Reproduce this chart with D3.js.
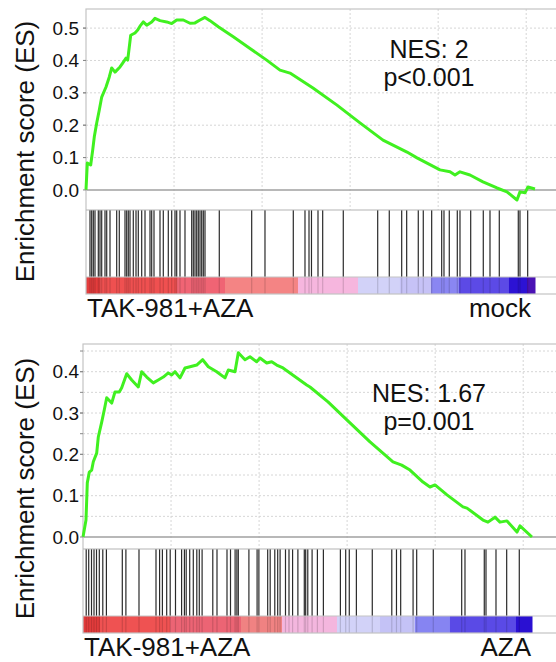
<!DOCTYPE html>
<meta charset="utf-8">
<style>

body {
  margin: 0;
  background: #fff;
}

svg text {
  font-family: "Liberation Sans", Arial, sans-serif;
  fill: #111;
}

.frame {
  fill: none;
  stroke: #c4c4c4;
  stroke-width: 1.2px;
}

.grid {
  stroke: #d6d6d6;
  stroke-width: 1px;
  stroke-dasharray: 2, 2;
}

.es-line {
  fill: none;
  stroke: #40f020;
  stroke-width: 3px;
  stroke-linejoin: round;
}

.hit {
  stroke: #2a2a2a;
  stroke-width: 1.2px;
}

</style>
<body>
<script src="https://cdn.jsdelivr.net/npm/d3@7"></script>
<script>

// ranked list length and x grid positions (gene rank)
var N = 25500;
var xGrid = [5000, 10000, 15000, 20000, 25000];

// panel 1 : TAK-981+AZA vs mock
var esRank1 = [0, 74, 267, 380, 471, 608, 755, 892, 1136, 1323, 1459, 1647, 1931, 2084, 2272, 2368,
  2539, 2783, 2936, 3067, 3254, 3447, 3731, 3918, 4203, 4583, 4867, 5151, 5526, 5906, 6190, 6474,
  6758, 7042, 7513, 8365, 9314, 10262, 11017, 11585, 12891, 14254, 15560, 16867, 18230, 18798,
  20104, 20672, 20956, 21240, 21808, 22546, 23341, 23909, 24477, 24647, 24931, 25101, 25499];
var esScore1 = [0, 0.083, 0.077, 0.123, 0.164, 0.207, 0.247, 0.287, 0.318, 0.349, 0.377, 0.364, 0.380, 0.392, 0.407, 0.401,
  0.478, 0.485, 0.494, 0.506, 0.519, 0.509, 0.519, 0.530, 0.523, 0.519, 0.514, 0.525, 0.525, 0.515, 0.516, 0.525,
  0.533, 0.523, 0.504, 0.473, 0.437, 0.401, 0.370, 0.361, 0.315, 0.262, 0.207, 0.154, 0.117, 0.099,
  0.062, 0.056, 0.046, 0.056, 0.046, 0.025, 0.006, -0.006, -0.031, -0.006, -0.009, 0.009, 0.003];
var hits1 = [227, 324, 415, 511, 699, 795, 892, 1079, 1176, 1363, 1743, 1891, 2215, 2311, 2402, 2499,
  2686, 2840, 2970, 3163, 3351, 3635, 3731, 3862, 4203, 4390, 4674, 4867, 5054, 5151, 5338, 5622,
  6003, 6094, 6190, 6287, 6378, 6474, 6571, 6662, 6758, 7570, 9410, 10165, 11773, 12437, 12665,
  12806, 13176, 13442, 14612, 16566, 17224, 17929, 18212, 18871, 19155, 19632, 20200, 20331, 20632,
  21087, 21240, 21848, 22563, 22944, 23472, 24551, 24647, 25084];
var barStart1 = [0, 800, 5170, 7894, 12039, 15447, 17832, 19593, 21183, 24022, 25044];
var barColor1 = ["#e43c3c", "#ef5050", "#f06474", "#f48484", "#f6b6de", "#d2d2f8", "#c6c2f6",
  "#8a86f2", "#5c4ae6", "#2c12d4", "#4a12b4"];
var yTicks1 = [0, 0.1, 0.2, 0.3, 0.4, 0.5];
var yGrid1 = [0.1, 0.2, 0.3, 0.4, 0.5];
var stats1 = ["NES: 2", "p<0.001"];
var classes1 = ["TAK-981+AZA", "mock"];

// panel 2 : TAK-981+AZA vs AZA
var esRank2 = [0, 170, 244, 358, 494, 585, 778, 869, 1062, 1210, 1346, 1630, 1817, 2061, 2198, 2482,
  2766, 3140, 3334, 3618, 3992, 4276, 4560, 4844, 5037, 5225, 5509, 5793, 6077, 6457, 6798, 7116,
  7593, 8064, 8252, 8632, 8820, 9200, 9484, 9864, 10052, 10433, 10717, 11000, 11358, 12704, 12891,
  13914, 15163, 16299, 17605, 18099, 18571, 19309, 19707, 19991, 20672, 21580, 21808, 22716, 23000,
  23398, 23682, 24079, 24647, 24817, 25499];
var esScore2 = [0, 0.041, 0.131, 0.157, 0.162, 0.182, 0.203, 0.242, 0.278, 0.308, 0.337, 0.324, 0.351, 0.351, 0.361, 0.395,
  0.380, 0.363, 0.400, 0.387, 0.373, 0.380, 0.387, 0.397, 0.392, 0.400, 0.385, 0.409, 0.412, 0.416, 0.429, 0.412,
  0.400, 0.385, 0.404, 0.400, 0.446, 0.429, 0.436, 0.424, 0.433, 0.421, 0.424, 0.416, 0.409, 0.368, 0.363,
  0.327, 0.276, 0.230, 0.182, 0.174, 0.162, 0.133, 0.121, 0.126, 0.102, 0.073, 0.070, 0.041, 0.036,
  0.048, 0.036, 0.039, 0.012, 0.027, 0];
var hits2 = [182, 324, 483, 625, 767, 926, 1124, 1329, 2232, 2436, 3180, 4146, 4350, 4509, 4753, 4952,
  5253, 5600, 5759, 5861, 6060, 6264, 6463, 6605, 6764, 7371, 7610, 8178, 8377, 8638, 8740, 8820,
  9422, 9887, 9989, 10489, 10631, 10892, 11057, 11193, 11500, 11699, 11903, 12204, 12568, 12647,
  12766, 13011, 13312, 13652, 14618, 14919, 15123, 15526, 16429, 17537, 17803, 18042, 18746, 18951,
  19894, 21507, 21694, 22790, 22887, 23455, 24062, 24778];
var barStart2 = [0, 965, 4941, 8973, 11301, 14425, 16867, 18854, 20842, 24590];
var barColor2 = ["#e43c3c", "#ef5252", "#ec6474", "#f08282", "#f4b6de", "#d2d2f8", "#c4c2f6",
  "#8684f2", "#5a4ae6", "#2a10d2"];
var yTicks2 = [0, 0.1, 0.2, 0.3, 0.4];
var yGrid2 = [0.05, 0.1, 0.15, 0.2, 0.25, 0.3, 0.35, 0.4, 0.45];
var stats2 = ["NES: 1.67", "p=0.001"];
var classes2 = ["TAK-981+AZA", "AZA"];

var width = 556, height = 662;

var svg = d3.select("body").append("svg")
    .attr("width", width)
    .attr("height", height);

var panels = [
  { left: 86, right: 535, top: 9, esBottom: 210, hitBottom: 277, barBottom: 294, yDomain: [-0.062, 0.559],
    rank: esRank1, score: esScore1, hits: hits1, barStart: barStart1, barColor: barColor1,
    ticks: yTicks1, grid: yGrid1, stats: stats1, statsY: 58, classes: classes1, classY: 317 },
  { left: 83, right: 532, top: 344, esBottom: 549, hitBottom: 616, barBottom: 633, yDomain: [-0.029, 0.467],
    rank: esRank2, score: esScore2, hits: hits2, barStart: barStart2, barColor: barColor2,
    ticks: yTicks2, grid: yGrid2, stats: stats2, statsY: 402, classes: classes2, classY: 656 }
];

panels.forEach(function(p) {
  var x = d3.scaleLinear().domain([0, N]).range([p.left, p.right]);
  var y = d3.scaleLinear().domain(p.yDomain).range([p.esBottom, p.top]);
  var g = svg.append("g");

  // dotted grid in the ES area
  g.selectAll(".hgrid").data(p.grid).enter().append("line")
    .attr("class", "grid")
    .attr("x1", p.left).attr("x2", width)
    .attr("y1", function(d) { return y(d); })
    .attr("y2", function(d) { return y(d); });

  g.selectAll(".vgrid").data(xGrid).enter().append("line")
    .attr("class", "grid")
    .attr("x1", function(d) { return x(d); })
    .attr("x2", function(d) { return x(d); })
    .attr("y1", p.top).attr("y2", p.esBottom);

  // zero line
  g.append("line")
    .attr("x1", p.left).attr("x2", width)
    .attr("y1", y(0)).attr("y2", y(0))
    .attr("stroke", "#a0a0a0")
    .attr("stroke-width", 1.4);

  // ranked list colour bar
  var segs = p.barStart.map(function(s, i) {
    return { x0: s, x1: i < p.barStart.length - 1 ? p.barStart[i + 1] : N, c: p.barColor[i] };
  });
  g.selectAll(".seg").data(segs).enter().append("rect")
    .attr("x", function(d) { return x(d.x0); })
    .attr("width", function(d) { return x(d.x1) - x(d.x0) + 0.5; })
    .attr("y", p.hitBottom)
    .attr("height", p.barBottom - p.hitBottom)
    .attr("fill", function(d) { return d.c; });

  // gene set hits
  g.selectAll(".hit").data(p.hits).enter().append("line")
    .attr("class", "hit")
    .attr("x1", function(d) { return x(d); })
    .attr("x2", function(d) { return x(d); })
    .attr("y1", p.esBottom).attr("y2", p.hitBottom);

  g.selectAll(".hitbar").data(p.hits).enter().append("line")
    .attr("stroke", "#000")
    .attr("stroke-opacity", 0.15)
    .attr("stroke-width", 1.2)
    .attr("x1", function(d) { return x(d); })
    .attr("x2", function(d) { return x(d); })
    .attr("y1", p.hitBottom).attr("y2", p.barBottom);

  // frame and separators
  g.append("rect")
    .attr("class", "frame")
    .attr("x", p.left).attr("y", p.top)
    .attr("width", width + 10 - p.left)
    .attr("height", p.barBottom - p.top);

  [p.esBottom, p.hitBottom].forEach(function(yy) {
    g.append("line")
      .attr("x1", p.left).attr("x2", width)
      .attr("y1", yy).attr("y2", yy)
      .attr("stroke", yy == p.esBottom ? "#b4b4b4" : "#c4c4c4")
      .attr("stroke-width", 1.2);
  });

  // running enrichment score
  var pts = p.rank.map(function(r, i) { return [r, p.score[i]]; });
  g.append("path")
    .datum(pts)
    .attr("class", "es-line")
    .attr("d", d3.line()
      .x(function(d) { return x(d[0]); })
      .y(function(d) { return y(d[1]); }));

  // y axis tick labels
  g.selectAll(".tick").data(p.ticks).enter().append("text")
    .attr("x", 79)
    .attr("y", function(d) { return y(d); })
    .attr("dy", "0.35em")
    .attr("text-anchor", "end")
    .style("font-size", "19px")
    .text(function(d) { return d3.format(".1f")(d); });

  g.selectAll(".ytick").data(p.ticks.concat(p.grid)).enter().append("line")
    .attr("x1", p.left - 3).attr("x2", p.left)
    .attr("y1", function(d) { return y(d); })
    .attr("y2", function(d) { return y(d); })
    .attr("stroke", "#888");

  // axis title
  g.append("text")
    .attr("transform", "translate(34," + ((p.top + p.barBottom) / 2) + ") rotate(-90)")
    .attr("text-anchor", "middle")
    .style("font-size", "26px")
    .text("Enrichment score (ES)");

  // NES and p value
  g.selectAll(".stat").data(p.stats).enter().append("text")
    .attr("x", 429)
    .attr("y", function(d, i) { return p.statsY + i * 28; })
    .attr("text-anchor", "middle")
    .style("font-size", "25px")
    .text(function(d) { return d; });

  // phenotype labels
  g.append("text")
    .attr("x", p.left + 1)
    .attr("y", p.classY)
    .style("font-size", "26px")
    .text(p.classes[0]);

  g.append("text")
    .attr("x", 531)
    .attr("y", p.classY)
    .attr("text-anchor", "end")
    .style("font-size", "26px")
    .text(p.classes[1]);
});

</script>
</body>
